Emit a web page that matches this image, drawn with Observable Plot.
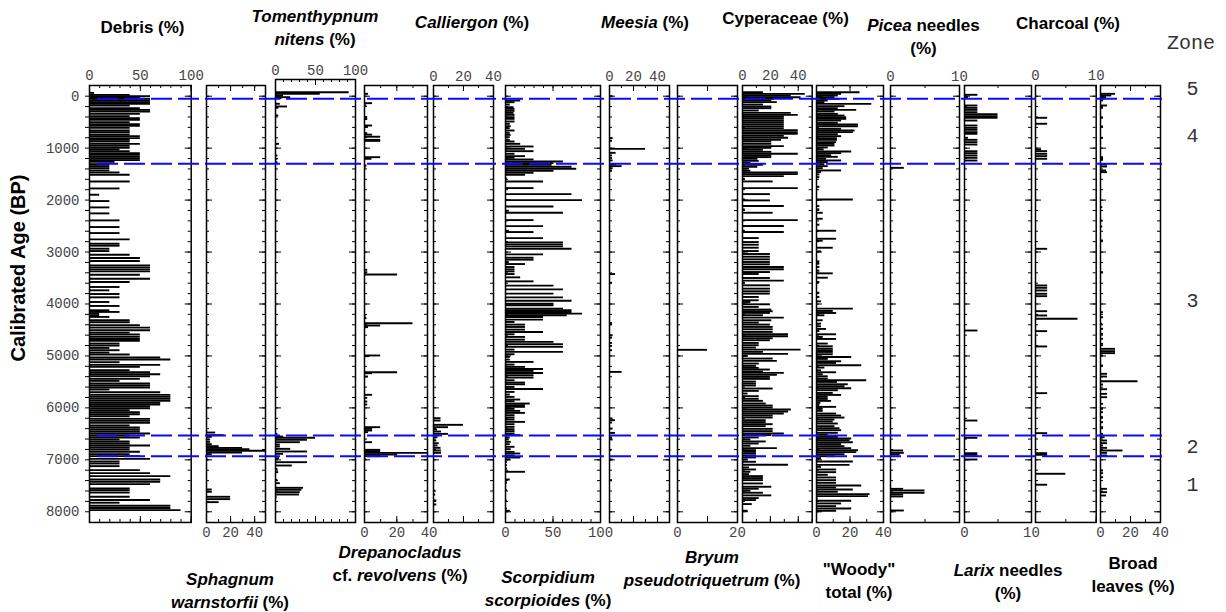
<!DOCTYPE html>
<html><head><meta charset="utf-8">
<script src="https://cdn.jsdelivr.net/npm/d3@7"></script>
<script src="https://cdn.jsdelivr.net/npm/@observablehq/plot@0.6"></script>
<style>
body{margin:0;background:#fff;}
#chart{position:relative;width:1226px;height:612px;overflow:hidden;font-family:"Liberation Sans",Arial,sans-serif;background:#fff;}
.tl{position:absolute;font-weight:bold;font-size:17px;line-height:17px;white-space:nowrap;transform:translate(-50%,-50%);color:#000;}
.zone{position:absolute;font-family:"Liberation Mono",monospace;font-size:20px;line-height:20px;color:#333;transform:translate(-50%,-50%);}
.ylab{position:absolute;font-weight:bold;font-size:20px;line-height:20px;white-space:nowrap;transform:translate(-50%,-50%) rotate(-90deg);}
</style></head>
<body><div id="chart"></div>
<script>
// ---------------- DATA ----------------
const ageTicksMajor = [0,1000,2000,3000,4000,5000,6000,7000,8000];
const zoneBounds = [50, 1300, 6530, 6930];
const zoneNames = ["5","4","3","2","1"];
const zoneLabelAges = [-148, 756, 3931, 6736, 7475];

const debris = [[-64,5],[-26,40],[0,60],[32,50],[51,60],[83,60],[115,60],[147,60],[179,40],[231,50],[263,60],[295,60],[340,50],[385,40],[423,50],[455,50],[500,40],[538,50],[571,50],[609,40],[660,40],[692,40],[737,40],[769,50],[808,50],[840,40],[872,40],[917,50],[955,40],[994,40],[1026,30],[1058,40],[1096,50],[1128,50],[1167,50],[1199,50],[1231,50],[1263,25],[1308,20],[1346,20],[1385,20],[1429,20],[1468,30],[1513,40],[1641,40],[1776,30],[1897,10],[2019,20],[2141,20],[2256,20],[2391,30],[2519,30],[2635,30],[2756,40],[2840,30],[2878,30],[2936,20],[2981,20],[3051,40],[3115,50],[3173,50],[3256,60],[3295,60],[3333,60],[3372,60],[3436,50],[3513,60],[3577,40],[3673,30],[3737,20],[3808,30],[3872,30],[3962,20],[4038,30],[4121,20],[4153,30],[4185,10],[4217,10],[4249,20],[4313,40],[4352,40],[4410,50],[4455,60],[4506,60],[4551,40],[4589,50],[4634,50],[4673,50],[4711,50],[4762,30],[4801,30],[4846,20],[4890,30],[4935,20],[4974,40],[5031,70],[5070,80],[5121,30],[5173,70],[5211,50],[5275,40],[5314,60],[5352,70],[5391,60],[5442,50],[5480,30],[5532,60],[5570,60],[5609,60],[5647,20],[5698,70],[5750,80],[5788,80],[5826,80],[5865,80],[5904,70],[5936,70],[5968,60],[6006,60],[6045,40],[6083,50],[6122,50],[6160,40],[6211,60],[6250,60],[6288,60],[6339,40],[6378,50],[6416,50],[6455,50],[6493,60],[6532,40],[6570,50],[6609,30],[6647,40],[6686,40],[6724,60],[6763,40],[6801,40],[6846,50],[6891,40],[6929,50],[6981,60],[7032,30],[7071,30],[7122,30],[7198,50],[7256,60],[7314,80],[7378,70],[7423,70],[7468,60],[7551,40],[7583,40],[7628,40],[7712,40],[7775,60],[7826,30],[7885,80],[7929,80],[7968,90]];

const sphagnum = [[6474,7.6],[6525,14.7],[6557,4.8],[6608,3.4],[6653,3.4],[6698,4.8],[6736,10.5],[6769,30],[6794,36],[6826,49],[6859,30],[6891,4.8],[6993,1.5],[7570,4.8],[7615,4.8],[7711,20],[7756,20],[7814,10.5]];

const tomenthypnum = [[-77,92],[-46,56],[-13,10],[19,19],[38,8],[146,6],[198,15],[223,4],[371,4],[917,5],[1141,3],[1205,3],[1270,3],[6499,3],[6551,10],[6576,50],[6614,40],[6660,31],[6705,6],[6743,6],[6788,19],[6839,40],[6884,10],[6968,5],[7045,40],[7109,21],[7173,3],[7237,4],[7384,3],[7449,6],[7538,35],[7576,33],[7622,31],[7667,30],[7719,2]];

const drepanocladus = [[-46,2.5],[134,5],[179,1.5],[404,2],[440,2],[564,5],[590,2.5],[712,2],[740,5],[780,10],[840,10],[860,10],[1174,10],[1205,4.6],[1334,1.5],[1360,1],[3342,2],[3388,2],[3432,20.5],[4221,1],[4270,1.5],[4370,30],[4414,10],[4446,2.5],[4991,10],[5004,3],[5313,20.5],[5332,5],[5396,2.5],[5748,5],[5806,2],[5877,2],[5935,2],[6371,10],[6403,5],[6435,5],[6467,2.5],[6660,5],[6807,10],[6833,10],[6865,39],[6897,20.5],[6929,10],[6980,1]];

const calliergon = [[6198,5],[6243,5],[6326,20],[6371,10],[6416,2.7],[6455,5.3],[6500,10],[6564,3],[6628,2.2],[6680,3.8],[6724,3],[6769,5],[6820,5.3],[6865,5.3],[7590,1.5],[7667,1.5],[7782,2.2],[7859,2.2]];

const scorpidium = [[83,16],[115,10],[160,5],[212,9],[244,10],[282,10],[321,9],[359,10],[404,10],[436,10],[487,10],[532,5],[577,6],[615,5],[660,10],[705,5],[744,6],[788,5],[840,5],[872,10],[917,16],[968,30],[1013,21],[1058,30],[1109,10],[1154,21],[1186,10],[1218,30],[1256,61],[1288,51],[1321,49],[1359,70],[1397,75],[1436,51],[1474,30],[1513,21],[1590,2],[1641,40],[1769,30],[1885,70],[2000,81],[2122,51],[2205,4],[2244,61],[2385,30],[2500,40],[2590,4],[2615,30],[2731,40],[2814,61],[2853,61],[2891,61],[2936,70],[3045,40],[3109,30],[3147,30],[3192,4],[3231,21],[3288,10],[3333,10],[3372,10],[3423,10],[3487,16],[3564,30],[3647,51],[3718,61],[3801,51],[3872,61],[3936,70],[3994,51],[4025,51],[4089,61],[4121,70],[4153,70],[4185,81],[4217,65],[4249,40],[4301,40],[4346,10],[4397,21],[4442,21],[4493,21],[4538,40],[4583,10],[4634,21],[4686,21],[4730,51],[4775,61],[4826,61],[4878,10],[4922,61],[4967,10],[5019,5],[5070,5],[5115,30],[5166,10],[5211,21],[5250,40],[5288,30],[5327,40],[5371,30],[5416,30],[5468,10],[5512,21],[5545,21],[5596,10],[5635,40],[5692,10],[5743,5],[5788,10],[5839,16],[5871,10],[5916,26],[5948,21],[5980,21],[6019,10],[6057,16],[6096,21],[6141,10],[6185,10],[6224,10],[6269,21],[6314,10],[6365,10],[6410,10],[6448,10],[6493,10],[6525,16],[6570,5],[6608,4],[6653,6],[6698,5],[6749,10],[6794,6],[6846,10],[6878,16],[6916,10],[6955,16],[6993,5],[7044,2],[7102,2],[7166,2],[7230,21],[7294,1],[7378,5],[7442,2],[7583,2],[7788,2],[7936,2],[7981,5]];

const meesia = [[0,3],[808,3],[859,2.5],[1013,30],[1090,5.5],[1141,2.5],[1192,2.5],[1237,3],[1308,6],[1346,10.5],[1385,3],[1436,2.5],[3423,5],[3590,2.5],[4365,2.5],[4390,2.5],[4602,3],[4647,2.5],[4750,2.5],[4807,2.5],[4890,2.5],[5307,10.5],[6205,3],[6237,5],[6282,2.5],[6397,3],[6481,5],[6570,2.5],[6608,3],[6814,2],[6993,3],[7391,2.5]];

const bryum = [[4882,10]];

const cyperaceae = [[-77,15],[-45,45],[-13,35],[19,42],[51,23],[83,21],[115,25],[160,15],[199,21],[231,21],[276,12],[321,35],[359,40],[391,30],[423,30],[462,30],[500,30],[538,30],[577,30],[615,30],[654,40],[692,40],[724,40],[763,30],[801,33],[840,28],[872,21],[917,21],[962,30],[994,21],[1032,15],[1071,21],[1109,40],[1141,21],[1173,21],[1205,11],[1244,12],[1282,6],[1321,15],[1359,11],[1397,5],[1436,6],[1468,40],[1500,40],[1538,30],[1590,2],[1641,22],[1769,40],[1885,20],[1987,2],[2006,20],[2115,30],[2179,2],[2244,22],[2385,40],[2500,30],[2590,2],[2615,30],[2731,12],[2808,12],[2859,12],[2917,12],[2981,12],[3038,20],[3090,20],[3141,20],[3192,20],[3237,20],[3288,30],[3333,30],[3385,20],[3423,12],[3500,20],[3551,30],[3590,2],[3641,20],[3705,20],[3756,20],[3801,20],[3865,12],[3929,12],[3962,6],[4006,20],[4057,12],[4108,21],[4140,22],[4172,20],[4217,15],[4262,30],[4314,21],[4358,12],[4397,20],[4442,22],[4487,22],[4538,22],[4583,33],[4622,33],[4660,22],[4698,20],[4750,12],[4794,12],[4839,10],[4878,42],[4922,15],[4961,33],[5000,4],[5051,22],[5096,25],[5147,12],[5192,10],[5230,12],[5262,20],[5301,15],[5327,30],[5365,25],[5404,20],[5442,20],[5494,10],[5532,10],[5570,10],[5628,22],[5673,12],[5724,4],[5775,12],[5826,12],[5865,15],[5916,17],[5955,22],[5993,22],[6032,35],[6070,33],[6109,30],[6147,22],[6186,22],[6237,17],[6275,17],[6314,22],[6352,17],[6404,22],[6448,22],[6493,30],[6525,21],[6570,12],[6609,6],[6647,17],[6686,12],[6730,6],[6775,25],[6814,10],[6846,10],[6878,10],[6917,10],[6955,10],[6993,4],[7038,10],[7096,33],[7147,5],[7186,10],[7231,6],[7275,5],[7314,15],[7352,15],[7391,15],[7455,15],[7519,21],[7557,12],[7596,6],[7634,15],[7685,21],[7737,12],[7775,10],[7852,7],[7980,4]];

const woody = [[-77,26],[-45,15],[-13,13],[19,11],[51,14],[83,7],[115,5],[147,33],[192,17],[231,13],[263,24],[295,11],[340,13],[372,17],[404,18],[436,18],[468,15],[513,13],[545,25],[577,25],[628,15],[660,23],[692,22],[731,13],[769,15],[808,12.5],[840,12.5],[885,12],[917,11],[949,11],[987,7],[1026,4.6],[1064,21],[1096,15],[1135,9],[1167,13],[1205,6],[1237,15],[1269,7],[1308,5],[1346,7],[1385,4],[1429,15],[1462,3],[1506,2],[1558,2],[1744,2],[1987,22],[2115,2],[2179,2],[2244,4],[2359,4],[2474,2],[2590,12],[2744,12],[2782,4],[2917,10],[2987,3],[3179,2],[3224,2],[3288,2],[3359,2],[3410,10],[3494,7],[3577,2],[3782,2],[3865,2],[3949,3],[4089,22],[4134,10],[4173,12],[4217,5],[4313,4],[4378,3],[4429,3],[4480,6],[4519,2],[4583,12],[4634,4],[4673,12],[4762,7],[4814,10],[4859,10],[4891,10],[4923,10],[4967,10],[5019,21],[5057,7],[5102,15],[5134,12],[5179,27],[5224,5],[5276,3],[5314,12],[5352,4],[5391,7],[5435,7],[5468,30],[5500,12.5],[5545,19],[5583,17],[5622,21],[5660,13],[5712,10],[5750,15],[5788,7],[5827,7],[5865,9],[5904,2.6],[5942,2],[5980,12],[6019,4],[6057,4],[6109,12],[6147,15],[6186,17],[6224,11],[6262,10],[6301,13],[6352,11],[6391,14],[6429,15],[6480,13],[6519,7],[6557,13],[6589,21],[6621,20],[6660,22],[6698,15],[6737,17],[6775,21],[6814,25],[6852,24],[6891,17],[6929,11],[6968,3],[7032,22],[7096,20],[7135,3],[7186,12],[7237,12],[7288,7],[7339,12],[7391,12],[7442,12],[7493,27],[7532,12],[7570,22],[7615,13],[7660,32],[7698,31],[7743,1],[7788,21],[7839,15],[7891,12],[7936,21],[7981,12]];

const picea = [[1379,2],[6820,1.9],[6865,2],[6897,1.4],[7558,1.9],[7590,5],[7635,5],[7667,1.9],[7705,1.9],[7975,2]];

const larix = [[-27,2],[18,0.6],[179,2],[224,2],[263,2],[308,2],[346,5],[385,5],[417,5],[468,2],[564,2],[609,2],[647,2],[692,2],[724,2],[801,0.6],[840,2],[885,2],[930,2],[1059,2],[1097,2],[1141,2],[1186,2],[1238,2],[4510,2],[6243,2],[6576,2],[6872,2],[6904,2],[6993,2]];

const charcoal = [[416,2],[531,2],[1026,1],[1058,2],[1109,2],[1154,2],[1205,2],[2938,2],[3644,2],[3689,2],[3740,2],[3804,2],[3850,2],[4139,2],[4222,2],[4285,7],[4523,2],[4818,2],[5717,2],[6487,2],[6872,2],[6904,2],[7269,5],[7480,2]];

const broadLeaves = [[-46,10],[-14,7.5],[18,4],[50,3],[82,2],[179,4.7],[224,2],[416,2],[583,2],[801,2],[1174,2],[1225,2],[1315,4.7],[1353,4.7],[1430,4],[1462,4.7],[2136,1.5],[2393,1.5],[2508,1.5],[2778,2],[3388,2],[4158,2],[4254,2],[4382,1.5],[4478,2],[4574,2],[4670,2],[4767,2],[4863,10],[4908,10],[4946,10],[4991,2],[5184,2],[5344,4.7],[5396,4.7],[5486,25],[5550,2],[5640,4.7],[5730,4.7],[5794,4.7],[5922,2],[6018,2],[6082,2],[6178,2],[6275,2],[6371,2],[6499,2],[6564,3],[6628,4.7],[6679,4.7],[6724,2],[6769,4.7],[6820,15],[6865,4.7],[6916,4.7],[7205,2],[7256,2],[7333,2],[7558,4.7],[7622,4.7],[7686,4]];

const series = [debris, sphagnum, tomenthypnum, drepanocladus, calliergon, scorpidium, meesia, bryum, cyperaceae, woody, picea, larix, charcoal, broadLeaves];

const titles = [
  ["Debris (%)"],
  ["<i>Sphagnum</i>", "<i>warnstorfii</i> (%)"],
  ["<i>Tomenthypnum</i>", "<i>nitens</i> (%)"],
  ["<i>Drepanocladus</i>", "cf. <i>revolvens</i> (%)"],
  ["<i>Calliergon</i> (%)"],
  ["<i>Scorpidium</i>", "<i>scorpioides</i> (%)"],
  ["<i>Meesia</i> (%)"],
  ["<i>Bryum</i>", "<i>pseudotriquetrum</i> (%)"],
  ["Cyperaceae (%)"],
  ["\"Woody\"", "total (%)"],
  ["<i>Picea</i> needles", "(%)"],
  ["<i>Larix</i> needles", "(%)"],
  ["Charcoal (%)"],
  ["Broad", "leaves (%)"]
];
const axisLabelTicks = [[0,50,100],[0,20,40],[0,50,100],[0,20,40],[0,20,40],[0,50,100],[0,20,40],[0,20],[0,20,40],[0,20,40],[0,10],[0,10],[0,10],[0,20,40]];
const axisMax = [100,49,100,39,40,100,50,20,50,40,10,10,10,40];

// ---------------- LAYOUT ----------------
const pxTop = 85, pxBottom = 522, ageTop = -206, ageBottom = 8206;
const pxPerYear = (pxBottom - pxTop) / (ageBottom - ageTop);
const layout = [
  {l:89.3, r:191, step:10, major:50, anchor:"top", tx:142.5, ty:27},
  {l:206, r:265, step:10, major:20, anchor:"bottom", tx:230, ty:579},
  {l:275, r:355, step:10, major:50, anchor:"top", tx:315, ty:16, top:79},
  {l:364.3, r:427.3, step:10, major:20, anchor:"bottom", tx:400, ty:552},
  {l:432.7, r:492.7, step:10, major:20, anchor:"top", tx:472, ty:21.7},
  {l:505, r:600, step:10, major:50, anchor:"bottom", tx:548, ty:577},
  {l:609.3, r:669.3, step:10, major:20, anchor:"top", tx:645, ty:21.7},
  {l:676.7, r:736.7, step:10, major:10, anchor:"bottom", tx:712, ty:557},
  {l:742.3, r:812, step:10, major:20, anchor:"top", tx:785.5, ty:18.3},
  {l:816.3, r:883.3, step:10, major:20, anchor:"bottom", tx:859, ty:569},
  {l:890.3, r:959.3, step:5, major:10, anchor:"top", tx:923.5, ty:25},
  {l:964.3, r:1031.3, step:5, major:10, anchor:"bottom", tx:1008, ty:570},
  {l:1035, r:1095.7, step:5, major:10, anchor:"top", tx:1068, ty:22.7},
  {l:1100.3, r:1160.3, step:10, major:20, anchor:"bottom", tx:1133, ty:563}
];
const MONO = "Liberation Mono, Courier New, monospace";
const chart = document.getElementById("chart");
const minorAges = d3.range(0, 8001, 200);

series.forEach((data, i) => {
  const L = layout[i];
  const w = L.r - L.l;
  const top = L.top ?? pxTop;
  const yTop = ageTop - (pxTop - top) / pxPerYear;
  const innerH = pxBottom - top;
  const max = axisMax[i];
  const minorX = d3.range(0, max + 1e-9, L.step);
  const majorX = minorX.filter(v => v % L.major === 0);
  const mL = 40, mR = 40;
  const marks = [
    Plot.ruleY(data, {y: d => d[0], x1: d => 0, x2: d => d[1], stroke: "#000", strokeWidth: 1.9}),
    Plot.tickX(minorX, {x: d => d, insetBottom: innerH - 3, stroke: "#000"}),
    Plot.tickX(majorX, {x: d => d, insetBottom: innerH - 6, stroke: "#000"}),
    Plot.tickX(minorX, {x: d => d, insetTop: innerH - 3, stroke: "#000"}),
    Plot.tickX(majorX, {x: d => d, insetTop: innerH - 6, stroke: "#000"}),
    Plot.tickY(minorAges, {y: d => d, insetLeft: w - 3, stroke: "#000"}),
    Plot.tickY(ageTicksMajor, {y: d => d, insetLeft: w - 6, stroke: "#000"}),
    Plot.frame({stroke: "#000", strokeWidth: 1.5}),
    Plot.axisX({anchor: L.anchor, ticks: axisLabelTicks[i], tickSize: 0, tickPadding: 5,
      tickFormat: d => String(d), fontFamily: MONO, fontSize: 14, fill: "#444", label: null})
  ];
  if (i === 0) {
    marks.push(Plot.axisY({anchor: "left", ticks: minorAges, tickSize: 4, tickPadding: 6,
      tickFormat: d => (d % 1000 === 0 ? String(d) : ""), fontFamily: MONO, fontSize: 14,
      stroke: "#000", fill: "#444", label: null}));
  } else {
    marks.push(Plot.tickY(minorAges, {y: d => d, insetRight: w - 3, stroke: "#000"}));
    marks.push(Plot.tickY(ageTicksMajor, {y: d => d, insetRight: w - 6, stroke: "#000"}));
  }
  const svg = Plot.plot({
    width: w + mL + mR, height: 612,
    marginLeft: mL, marginRight: mR, marginTop: top, marginBottom: 612 - pxBottom,
    x: {domain: [0, max], axis: null},
    y: {domain: [yTop, ageBottom], reverse: true, axis: i === 0 ? undefined : null},
    style: {background: "none", overflow: "visible"},
    marks
  });
  svg.style.position = "absolute";
  svg.style.left = (L.l - mL) + "px";
  svg.style.top = "0px";
  svg.style.maxWidth = "none";
  chart.appendChild(svg);

  titles[i].forEach((line, k) => {
    const d = document.createElement("div");
    d.className = "tl";
    d.innerHTML = line;
    d.style.left = L.tx + "px";
    d.style.top = (L.ty + k * 22.5) + "px";
    chart.appendChild(d);
  });
});

// Zone overlay
const overlay = Plot.plot({
  width: 1226, height: 612, marginTop: pxTop, marginBottom: 612 - pxBottom, marginLeft: 0, marginRight: 0,
  y: {domain: [ageTop, ageBottom], reverse: true, axis: null},
  style: {background: "none", overflow: "visible"},
  marks: [
    Plot.ruleY(zoneBounds, {y: d => d, insetLeft: 97, insetRight: 1226 - 1162, stroke: "#0a0aff", strokeWidth: 2, strokeDasharray: "21,6"}),
    Plot.text(zoneNames, {y: zoneLabelAges, text: d => d, frameAnchor: "left", dx: 1186, fontFamily: MONO, fontSize: 20, fill: "#333"})
  ]
});
overlay.style.position = "absolute";
overlay.style.left = "0px";
overlay.style.top = "0px";
overlay.style.maxWidth = "none";
overlay.style.pointerEvents = "none";
chart.appendChild(overlay);

const z = document.createElement("div");
z.className = "zone"; z.textContent = "Zone";
z.style.left = "1191px"; z.style.top = "44px";
chart.appendChild(z);

const yl = document.createElement("div");
yl.className = "ylab"; yl.textContent = "Calibrated Age (BP)";
yl.style.left = "18px"; yl.style.top = "268px";
chart.appendChild(yl);
</script></body></html>
